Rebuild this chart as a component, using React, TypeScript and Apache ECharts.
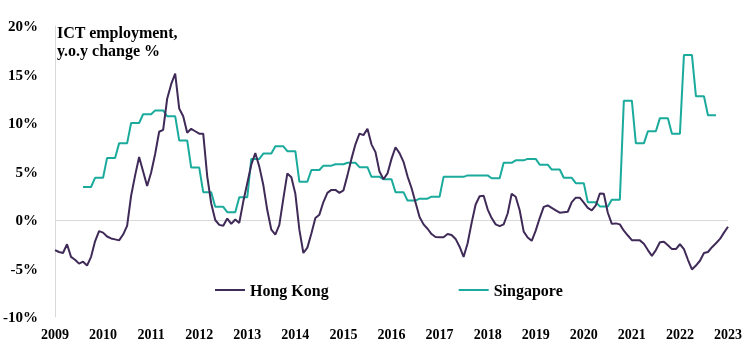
import React, { useEffect, useRef } from "react";
import * as echarts from "echarts";

// Monthly axis: index 0 = Jan 2009, 168 = Jan 2023
const startYear = 2009;
const monthsShown = 168;
const yearTicks = ["2009","2010","2011","2012","2013","2014","2015","2016","2017","2018","2019","2020","2021","2022","2023"];

// Hong Kong ICT employment, y.o.y % change (monthly, Jan 2009 .. Jan 2023)
const hongKong = [
  -3.1, -3.3, -3.4, -2.5, -3.8, -4.1, -4.5, -4.3, -4.7, -3.8, -2.2, -1.15,
  -1.3, -1.7, -1.9, -2.0, -2.1, -1.5, -0.6, 2.5, 4.6, 6.5, 5.0, 3.5,
  4.9, 6.8, 9.1, 9.3, 12.5, 14.0, 15.1, 11.5, 10.7, 9.0, 9.4, 9.15,
  8.9, 8.9, 4.5, 1.7, 0.0, -0.5, -0.6, 0.15, -0.4, 0.05, -0.3, 1.9,
  3.8, 5.7, 6.9, 5.5, 3.6, 1.0, -1.0, -1.5, -0.5, 2.2, 4.8, 4.4,
  2.7, -1.0, -3.4, -2.85, -1.4, 0.2, 0.55, 1.85, 2.8, 3.1, 3.1, 2.8,
  3.05, 4.6, 6.3, 7.8, 8.9, 8.75, 9.4, 7.8, 7.0, 5.0, 4.2, 4.8,
  6.3, 7.5, 6.9, 6.0, 4.5, 3.3, 1.8, 0.3, -0.45, -0.9, -1.45, -1.75,
  -1.77, -1.77, -1.45, -1.55, -1.95, -2.75, -3.8, -2.4, -0.3, 1.6, 2.45, 2.5,
  1.1, 0.2, -0.45, -0.64, -0.45, 0.67, 2.7, 2.4, 1.0, -1.2, -1.8, -2.15,
  -1.1, 0.2, 1.35, 1.5, 1.25, 1.0, 0.75, 0.8, 0.85, 1.85, 2.3, 2.3,
  1.8, 1.25, 1.0, 1.5, 2.73, 2.7, 0.75, -0.4, -0.35, -0.45, -1.1, -1.6,
  -2.08, -2.08, -2.1, -2.45, -3.1, -3.7, -3.1, -2.3, -2.25, -2.6, -3.0, -3.0,
  -2.5, -3.0, -4.1, -5.1, -4.7, -4.2, -3.4, -3.3, -2.8, -2.4, -1.95, -1.3,
  -0.7,
];
const hongKongStart = 0;

// Singapore ICT employment, y.o.y % change (quarterly values, each held for 3 months)
const singaporeQuarterly = [
  3.4, 4.35, 6.4, 7.9, 10.0, 10.9, 11.3, 10.7, 8.2, 5.4,
  2.87, 1.36, 0.81, 2.35, 6.3, 6.85, 7.6, 7.1, 3.95, 5.15,
  5.6, 5.75, 5.9, 5.45, 4.45, 4.2, 2.87, 2.0, 2.2, 2.4,
  4.45, 4.45, 4.6, 4.6, 4.3, 5.9, 6.15, 6.3, 5.7, 5.2,
  4.35, 3.8, 1.84, 1.4, 2.1, 12.3, 7.9, 9.15, 10.5, 8.9,
  17.0, 12.75, 10.8,
];
const singaporeStart = 7; // Aug 2009
const monthsPerQuarter = 3;

const seriesNames = ["Hong Kong", "Singapore"];
const titleLines = ["ICT employment,", "y.o.y change %"];

const SERIF = '"Liberation Serif", "Times New Roman", serif';
const HK_COLOR = "#3f2a58";
const SG_COLOR = "#1aab9c";

export default function App() {
  const ref = useRef<HTMLDivElement>(null);

  useEffect(() => {
    if (!ref.current) return;
    const chart = echarts.init(ref.current, undefined, { renderer: "svg" });

    const hkData = hongKong.map((v, i) => [hongKongStart + i, v]);
    const sgData: number[][] = [];
    singaporeQuarterly.forEach((v, q) => {
      for (let k = 0; k < monthsPerQuarter; k++) {
        sgData.push([singaporeStart + q * monthsPerQuarter + k, v]);
      }
    });

    chart.setOption({
      animation: false,
      grid: { left: 55, right: 24, top: 26, bottom: 35 },
      xAxis: {
        type: "value",
        min: 0,
        max: monthsShown,
        interval: 12,
        axisLine: { show: false },
        axisTick: { show: false },
        splitLine: { show: false },
        axisLabel: {
          formatter: (v: number) => yearTicks[Math.round(v / 12)] ?? String(startYear + v / 12),
          fontFamily: SERIF,
          fontWeight: "bold",
          fontSize: 14,
          color: "#000",
          margin: 10,
        },
      },
      yAxis: {
        type: "value",
        min: -10,
        max: 20,
        interval: 5,
        offset: 3,
        axisLine: { show: true, lineStyle: { color: "#d9d9d9", width: 1 } },
        axisTick: { show: false },
        splitLine: { show: false },
        axisLabel: {
          formatter: "{value}%",
          fontFamily: SERIF,
          fontWeight: "bold",
          fontSize: 15,
          color: "#000",
          margin: 14,
        },
      },
      legend: {
        left: 210,
        top: 277,
        itemWidth: 30,
        itemHeight: 2,
        itemGap: 130,
        icon: "rect",
        data: seriesNames,
        textStyle: { fontFamily: SERIF, fontWeight: "bold", fontSize: 16, color: "#000" },
      },
      graphic: [
        {
          type: "text",
          left: 57,
          top: 23,
          style: {
            text: titleLines.join("\n"),
            font: `bold 16px ${SERIF}`,
            fill: "#000",
            lineHeight: 18,
          },
        },
      ],
      series: [
        {
          name: seriesNames[0],
          type: "line",
          data: hkData,
          symbol: "none",
          lineStyle: { color: HK_COLOR, width: 2 },
          itemStyle: { color: HK_COLOR },
          z: 3,
          markLine: {
            silent: true,
            symbol: "none",
            label: { show: false },
            lineStyle: { color: "#d9d9d9", width: 1, type: "solid" },
            data: [{ yAxis: 0 }],
            z: 1,
          },
        },
        {
          name: seriesNames[1],
          type: "line",
          data: sgData,
          symbol: "none",
          lineStyle: { color: SG_COLOR, width: 2 },
          itemStyle: { color: SG_COLOR },
          z: 2,
        },
      ],
    });

    return () => chart.dispose();
  }, []);

  return (
    <div
      ref={ref}
      style={{ position: "fixed", left: 0, top: 0, width: 752, height: 352 }}
    />
  );
}
